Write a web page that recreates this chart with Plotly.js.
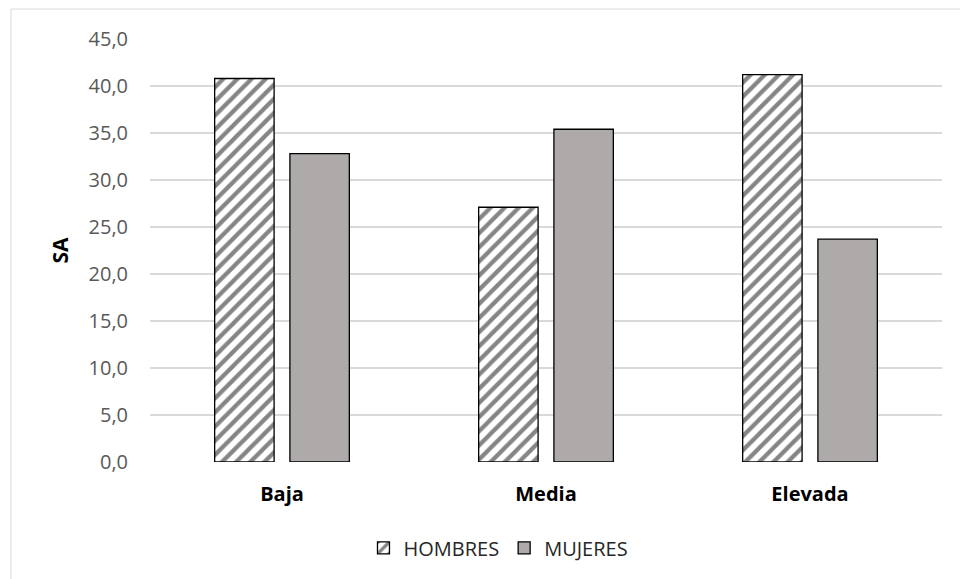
<!DOCTYPE html>
<html>
<head>
<meta charset="utf-8">
<script src="https://cdn.plot.ly/plotly-3.0.1.min.js"></script>
<style>html,body{margin:0;padding:0;background:#fff;}#chart{width:960px;height:579px;}</style>
</head>
<body>
<div id="chart"></div>
<script>
const categories = ["Baja", "Media", "Elevada"];
const hombres = [40.8, 27.1, 41.2];
const mujeres = [32.8, 35.4, 23.7];
const seriesNames = ["HOMBRES", "MUJERES"];
const yTicks = [0, 5, 10, 15, 20, 25, 30, 35, 40, 45];

const FONT = "'Open Sans', 'Noto Sans', sans-serif";

const traces = [
  {
    type: "bar", name: seriesNames[0], x: categories, y: hombres,
    marker: {
      color: "#ffffff",
      line: {color: "#000000", width: 1.3},
      pattern: {shape: "/", size: 10, solidity: 0.42, fgcolor: "#858585", bgcolor: "#ffffff", fillmode: "replace"}
    },
    hoverinfo: "skip"
  },
  {
    type: "bar", name: seriesNames[1], x: categories, y: mujeres,
    marker: {color: "#aeaaaa", line: {color: "#000000", width: 1.3}},
    hoverinfo: "skip"
  }
];

const layout = {
  width: 960, height: 579,
  margin: {l: 150, r: 18, t: 39, b: 117},
  paper_bgcolor: "#ffffff", plot_bgcolor: "#ffffff",
  font: {family: FONT, color: "#595959", size: 20},
  barmode: "group", bargap: 0.43, bargroupgap: 0.21,
  showlegend: true,
  legend: {
    orientation: "h", x: 0.44, xanchor: "center", y: -0.203, yanchor: "middle",
    font: {family: FONT, size: 20, color: "#262626"},
    traceorder: "normal"
  },
  xaxis: {
    type: "category", showgrid: false, zeroline: false, showline: false,
    ticks: "", tickfont: {family: FONT, size: 20, color: "#000000", weight: "bold"},
    ticklabelstandoff: 18
  },
  yaxis: {
    range: [0, 45], tickvals: yTicks, tickformat: ".1f",
    showgrid: true, gridcolor: "#d9d9d9", gridwidth: 1.3,
    zeroline: false, showline: false, ticks: "",
    tickfont: {family: FONT, size: 20, color: "#595959"},
    ticklabelstandoff: 21,
    automargin: false,
    title: {text: "SA", font: {family: FONT, size: 21, color: "#000000", weight: "bold"}, standoff: 14}
  },
  separators: ",.",
  shapes: [
    {type: "rect", xref: "paper", yref: "paper", x0: -0.1755, x1: 1.05, y0: -0.32, y1: 1.0708,
     line: {color: "#d9d9d9", width: 1}, fillcolor: "rgba(0,0,0,0)", layer: "below"}
  ]
};

Plotly.newPlot("chart", traces, layout, {displayModeBar: false, staticPlot: true});
</script>
</body>
</html>
